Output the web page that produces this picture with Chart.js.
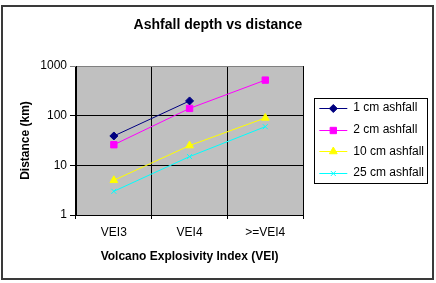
<!DOCTYPE html>
<html>
<head>
<meta charset="utf-8">
<script src="https://cdn.jsdelivr.net/npm/chart.js@4/dist/chart.umd.min.js"></script>
<style>
  html, body { margin: 0; padding: 0; background: #fff; }
  #wrap { width: 436px; height: 283px; }
</style>
</head>
<body>
<div id="wrap"><canvas id="line-chart" width="436" height="283"></canvas></div>
<script>
const categories = ["VEI3", "VEI4", ">=VEI4"];
const ash1cm = [39, 198, null];
const ash2cm = [26, 140, 520];
const ash10cm = [5, 25, 90];
const ash25cm = [3, 15, 60];
const yTicks = [1, 10, 100, 1000];

const FONT = "'Liberation Sans', Arial, sans-serif";

// plot background, outer frame, legend frame and legend line samples
const excelLook = {
  id: "excelLook",
  beforeDraw(chart) {
    const ctx = chart.ctx;
    const a = chart.chartArea;
    ctx.save();
    ctx.fillStyle = "#c0c0c0";
    ctx.fillRect(a.left, a.top, a.right - a.left, a.bottom - a.top);
    ctx.strokeStyle = "#3a3a3a";
    ctx.lineWidth = 2;
    ctx.strokeRect(2, 6, 431, 273);
    ctx.restore();
  },
  afterDraw(chart) {
    const lg = chart.legend;
    if (!lg || !lg.legendHitBoxes.length) return;
    const ctx = chart.ctx;
    const boxes = lg.legendHitBoxes;
    const first = boxes[0], last = boxes[boxes.length - 1];
    ctx.save();
    ctx.strokeStyle = "#000";
    ctx.lineWidth = 1;
    const fx = Math.round(first.left - 5) + 0.5;
    const fy = Math.round(first.top + first.height / 2 - 10) + 0.5;
    const fb = Math.round(last.top + last.height / 2 + 10) + 0.5;
    ctx.strokeRect(fx, fy, 113, fb - fy);
    chart.data.datasets.forEach((ds, i) => {
      const b = boxes[i];
      const cy = Math.round(b.top + b.height / 2) + 0.5;
      ctx.strokeStyle = ds.borderColor;
      ctx.beginPath();
      ctx.moveTo(b.left, cy);
      ctx.lineTo(b.left + 28, cy);
      ctx.stroke();
      ctx.fillStyle = ds.pointBackgroundColor;
      ctx.strokeStyle = ds.pointBorderColor;
      Chart.helpers.drawPoint(ctx, {
        pointStyle: ds.pointStyle,
        radius: ds.pointRadius,
        rotation: 0,
        borderWidth: 1
      }, b.left + 14, cy);
    });
    ctx.restore();
  }
};

function series(label, data, color, style, radius) {
  return {
    label: label,
    data: data,
    borderColor: color,
    backgroundColor: color,
    pointBackgroundColor: color,
    pointBorderColor: color,
    pointStyle: style,
    pointRadius: radius,
    pointHoverRadius: radius,
    borderWidth: 1,
    fill: false,
    tension: 0,
    spanGaps: false
  };
}

new Chart(document.getElementById("line-chart"), {
  type: "line",
  data: {
    labels: categories,
    datasets: [
      series("1 cm ashfall", ash1cm, "#000080", "rectRot", 4),
      series("2 cm ashfall", ash2cm, "#ff00ff", "rect", 4.5),
      series("10 cm ashfall", ash10cm, "#ffff00", "triangle", 4.5),
      series("25 cm ashfall", ash25cm, "#00ffff", "crossRot", 3.5)
    ]
  },
  options: {
    responsive: false,
    animation: false,
    devicePixelRatio: 1,
    layout: { padding: { left: 2, right: 2, top: 17, bottom: 15.6 } },
    plugins: {
      title: {
        display: true,
        text: "Ashfall depth vs distance",
        color: "#000",
        font: { family: FONT, size: 14, weight: "bold" },
        padding: { top: 0, bottom: 32.2 }
      },
      legend: {
        position: "right",
        fullSize: false,
        maxWidth: 140,
        labels: {
          color: "#000",
          font: { family: FONT, size: 12 },
          boxWidth: 28,
          boxHeight: 12,
          padding: 9.67,
          generateLabels(chart) {
            return chart.data.datasets.map((ds, i) => ({
              text: ds.label,
              datasetIndex: i,
              fillStyle: "rgba(0,0,0,0)",
              strokeStyle: "rgba(0,0,0,0)",
              lineWidth: 0,
              hidden: false
            }));
          }
        }
      },
      tooltip: { enabled: false }
    },
    scales: {
      x: {
        type: "category",
        offset: true,
        afterFit: s => { s.height = 52.4; },
        grid: {
          offset: true,
          color: c => (c.index === categories.length ? "#808080" : "#000"),
          lineWidth: 1,
          tickLength: 4
        },
        border: { color: "#000" },
        ticks: { color: "#000", font: { family: FONT, size: 12 }, padding: 6.8, maxRotation: 0 },
        title: {
          display: true,
          text: "Volcano Explosivity Index (VEI)",
          color: "#000",
          font: { family: FONT, size: 12, weight: "bold" },
          padding: { top: 11, bottom: 3.5 }
        }
      },
      y: {
        type: "logarithmic",
        min: 1,
        max: 1000,
        afterBuildTicks: s => { s.ticks = yTicks.map(v => ({ value: v })); },
        afterFit: s => { s.width = 74; },
        grid: {
          color: c => (c.tick && c.tick.value === 1000 ? "#808080" : "#000"),
          lineWidth: 1,
          tickLength: 6
        },
        border: { color: "#000" },
        ticks: {
          color: "#000",
          font: { family: FONT, size: 12 },
          padding: 3,
          callback: v => String(v)
        },
        title: {
          display: true,
          text: "Distance (km)",
          color: "#000",
          font: { family: FONT, size: 12, weight: "bold" },
          padding: { top: 16.3, bottom: 0 }
        }
      },
      spacer: {
        type: "linear",
        position: "right",
        display: true,
        grid: { display: false },
        border: { display: false },
        ticks: { display: false },
        afterFit: s => { s.width = 6.5; }
      }
    }
  },
  plugins: [excelLook]
});
</script>
</body>
</html>
